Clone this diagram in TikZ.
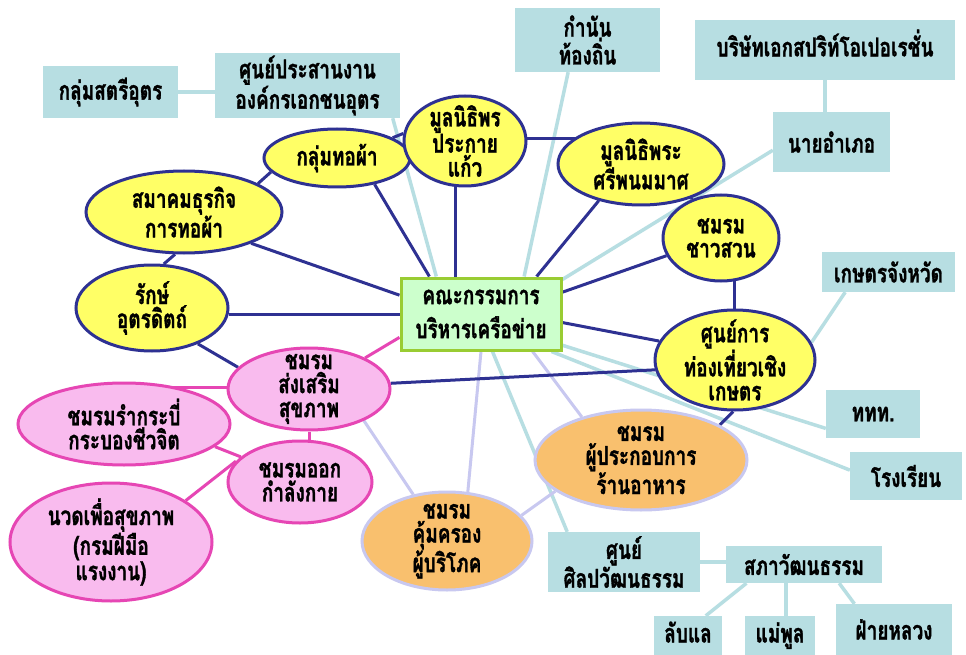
\documentclass[tikz,border=0pt]{standalone}
\usepackage{fontspec}
\usetikzlibrary{shapes.geometric,backgrounds,calc}
\newfontfamily\thaifont[Script=Thai,FakeStretch=0.73,FakeBold=1.2]{Loma}
\newcommand{\tf}{\thaifont\bfseries\fontsize{26}{24}\selectfont}
\definecolor{navy}{RGB}{46,49,146}
\definecolor{yelfill}{RGB}{255,255,102}
\definecolor{pinkfill}{RGB}{249,187,238}
\definecolor{pinkline}{RGB}{230,70,180}
\definecolor{orfill}{RGB}{249,192,110}
\definecolor{lav}{RGB}{200,200,240}
\definecolor{tealc}{RGB}{183,222,226}
\definecolor{cenfill}{RGB}{204,255,204}
\definecolor{cenline}{RGB}{153,204,51}
\tikzset{
  tbox/.style={rectangle, fill=tealc, draw=none, inner sep=0pt, align=center, font=\tf},
  lowtext/.style={text height=14pt, text depth=0pt},
  cbox/.style={rectangle, fill=cenfill, draw=cenline, line width=3pt, inner sep=0pt, align=center, font=\tf},
  yel/.style={ellipse, fill=yelfill, draw=navy, line width=3pt, inner sep=-16pt, align=center, font=\tf},
  pnk/.style={ellipse, fill=pinkfill, draw=pinkline, line width=3pt, inner sep=-16pt, align=center, font=\tf},
  org/.style={ellipse, fill=orfill, draw=lav, line width=3pt, inner sep=-16pt, align=center, font=\tf},
  nv/.style={draw=navy, line width=3pt},
  pk/.style={draw=pinkline, line width=3pt},
  lv/.style={draw=lav, line width=3pt},
  tl/.style={draw=tealc, line width=3.5pt},
}
\begin{document}
\begin{tikzpicture}[x=1pt,y=-1pt]
\useasboundingbox (0,0) rectangle (966,655);
% teal boxes
\node[tbox, minimum width=135pt, minimum height=52pt] (sst) at (110.5,92) {กลุ่มสตรีอุตร};
\node[tbox, minimum width=185pt, minimum height=65pt] (spn) at (307.5,85.5) {ศูนย์ประสานงาน\\องค์กรเอกชนอุตร};
\node[tbox, minimum width=145pt, minimum height=64pt] (kmn) at (587.5,40) {กำนัน\\ท้องถิ่น};
\node[tbox, minimum width=260pt, minimum height=60pt, text depth=14pt] (bri) at (825,50) {บริษัทเอกสปริท์โอเปอเรชั่น};
\node[tbox, minimum width=117pt, minimum height=60pt] (nai) at (831.5,142) {นายอำเภอ};
\node[tbox, minimum width=133pt, minimum height=40pt] (kst) at (888.5,272) {เกษตรจังหวัด};
\node[tbox, minimum width=94pt, minimum height=48pt] (ttt) at (873,414) {ททท.};
\node[tbox, minimum width=112pt, minimum height=48pt] (rrn) at (906,476) {โรงเรียน};
\node[tbox, minimum width=152pt, minimum height=60pt] (sls) at (624,562) {ศูนย์\\ศิลปวัฒนธรรม};
\node[tbox, minimum width=156pt, minimum height=37pt] (spw) at (804,564.5) {สภาวัฒนธรรม};
\node[tbox, lowtext, minimum width=68pt, minimum height=39pt] (lbl) at (688,635.5) {ลับแล};
\node[tbox, lowtext, minimum width=70pt, minimum height=39pt] (mpl) at (780,635.5) {แม่พูล};
\node[tbox, minimum width=116pt, minimum height=51pt] (fyl) at (894,629.5) {ฝ่ายหลวง};
% centre
\node[cbox, minimum width=160pt, minimum height=72pt] (cen) at (481,314) {คณะกรรมการ\\[10pt]บริหารเครือข่าย};
% yellow
\node[yel, minimum width=146pt, minimum height=58pt] (ktp) at (337,158) {กลุ่มทอผ้า};
\node[yel, minimum width=122pt, minimum height=90pt] (mnp) at (465,141) {มูลนิธิพร\\ประกาย\\แก้ว};
\node[yel, minimum width=166pt, minimum height=82pt] (mns) at (641,164) {มูลนิธิพระ\\ศรีพนมมาศ};
\node[yel, minimum width=116pt, minimum height=86pt] (cws) at (721,238) {ชมรม\\ชาวสวน};
\node[yel, minimum width=196pt, minimum height=82pt] (smk) at (184,212) {สมาคมธุรกิจ\\การทอผ้า};
\node[yel, minimum width=152pt, minimum height=86pt] (rak) at (152,308) {รักษ์\\อุตรดิตถ์};
\node[yel, minimum width=160pt, minimum height=100pt] (tour) at (735,360) {ศูนย์การ\\ท่องเที่ยวเชิง\\เกษตร};
% pink
\node[pnk, minimum width=162pt, minimum height=82pt] (ssp) at (309,389) {ชมรม\\ส่งเสริม\\สุขภาพ};
\node[pnk, minimum width=212pt, minimum height=82pt] (rkb) at (124,424) {ชมรมรำกระบี่\\กระบองชีวจิต};
\node[pnk, minimum width=144pt, minimum height=82pt] (okk) at (300,482) {ชมรมออก\\กำลังกาย};
\node[pnk, minimum width=202pt, minimum height=118pt] (nwd) at (111,542) {นวดเพื่อสุขภาพ\\(กรมฝีมือ\\แรงงาน)};
% orange
\node[org, minimum width=170pt, minimum height=98pt] (kbk) at (447,541) {ชมรม\\คุ้มครอง\\ผู้บริโภค};
\node[org, minimum width=212pt, minimum height=100pt] (pkr) at (641,460) {ชมรม\\ผู้ประกอบการ\\ร้านอาหาร};
% connectors
\begin{scope}[on background layer]
\fill[white] (0,0) rectangle (966,655);
\draw[tl] (sst.east) -- (sst.east -| spn.center);
\draw[tl] (spn.-21) -- (cen.140);
\draw[tl] (kmn.-121) -- (cen.41);
\draw[tl] (nai.-172) -- (cen.23);
\draw[tl] (bri.south) -- (bri.south |- nai.center);
\draw[tl] (kst.-155) -- (tour.13);
\draw[tl] (cen.-21) -- (ttt.-163);
\draw[tl] (cen.-28) -- (rrn.174);
\draw[tl] (cen.-73) -- (sls.152);
\draw[tl] (sls.east) -- (sls.east -| spw.center);
\draw[tl] (spw.-162) -- (lbl.48);
\draw[tl] ([xshift=6pt]mpl.north) -- ([xshift=6pt]mpl.north |- spw.center);
\draw[tl] (spw.-28) -- (fyl.147);
\draw[lv] (ssp.-30) -- (kbk.126);
\draw[lv] (cen.south) -- (kbk.67);
\draw[lv] (cen.-36) -- (pkr.144);
\draw[lv] (kbk.19) -- (pkr.-160);
\draw[nv] (smk.-25) -- (cen.167);
\draw[nv] (rak.-5) -- (rak.-5 -| cen.center);
\draw[nv] (ktp.-35) -- (cen.144);
\draw[nv] (mnp.-102) -- (mnp.-102 |- cen.center);
\draw[nv] (mns.-139) -- (cen.34);
\draw[nv] (cws.-162) -- (cen.15);
\draw[nv] (tour.166) -- (cen.-6);
\draw[nv] (ssp.4) -- (tour.-173);
\draw[nv] (smk.21) -- (ktp.-168);
\draw[nv] (ktp.20) -- (mnp.173);
\draw[nv] (mnp.2) -- (mnp.2 -| mns.center);
\draw[nv] (mns.-34) -- (cws.127);
\draw[nv] (cws.-73) -- (cws.-73 |- tour.center);
\draw[nv] (tour.-92) -- (pkr.24);
\draw[nv] (smk.-102) -- (rak.75);
\draw[nv] (rak.-38) -- (ssp.163);
\draw[pk] (cen.-164) -- (ssp.29);
\draw[pk] (ssp.179) -- (ssp.179 -| rkb.center);
\draw[pk] (ssp.south) -- (ssp.south |- okk.center);
\draw[pk] (okk.157) -- (rkb.-14);
\draw[pk] (okk.162) -- (nwd.29);
\end{scope}
\end{tikzpicture}
\end{document}
